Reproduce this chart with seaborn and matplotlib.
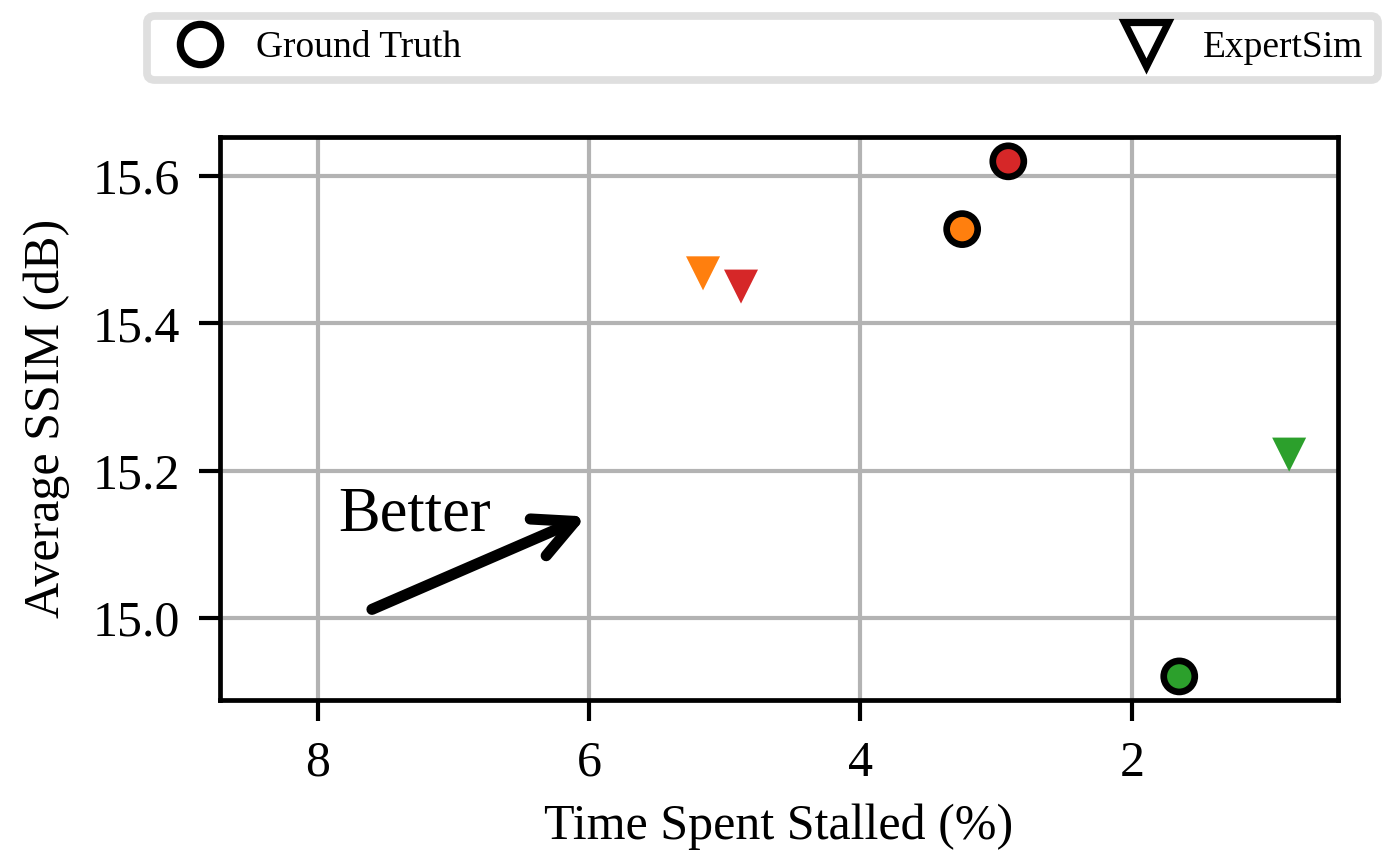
import numpy as np
import pandas as pd
import matplotlib
matplotlib.use('Agg')
import matplotlib.pyplot as plt
from matplotlib.lines import Line2D
import seaborn as sns

# values
configs = ['red', 'orange', 'green']
gt_stall = [2.91, 3.25, 1.65]
gt_ssim = [15.620, 15.528, 14.921]
sim_stall = [4.88, 5.16, 0.84]
sim_ssim = [15.450, 15.468, 15.222]

col_pal = {'red': '#d62728', 'orange': '#ff7f0e', 'green': '#2ca02c'}

sns.set_style('whitegrid')
plt.rcParams['font.family'] = ['Liberation Serif', 'DejaVu Serif']
plt.rcParams['mathtext.fontset'] = 'stix'
plt.rcParams['text.color'] = 'black'
plt.rcParams['axes.labelcolor'] = 'black'
plt.rcParams['xtick.color'] = 'black'
plt.rcParams['ytick.color'] = 'black'

gt = pd.DataFrame({'config': configs, 'stall': gt_stall, 'ssim': gt_ssim})
sim = pd.DataFrame({'config': configs, 'stall': sim_stall, 'ssim': sim_ssim})

fig, ax = plt.subplots(figsize=(6.915, 4.28), dpi=200)
fig.subplots_adjust(left=220/1383, right=1338/1383, top=1-137/856, bottom=1-700/856)

sns.scatterplot(data=sim, x='stall', y='ssim', hue='config', palette=col_pal,
                marker='v', s=150, linewidth=0, ax=ax, legend=False, zorder=3)
sns.scatterplot(data=gt, x='stall', y='ssim', hue='config', palette=col_pal,
                marker='o', s=125, edgecolor='black', linewidth=2.4, ax=ax,
                legend=False, zorder=4)

ax.set_xlim(8.72, 0.48)
ax.set_ylim(14.889, 15.653)
ax.set_xticks([8, 6, 4, 2])
ax.set_yticks([15.0, 15.2, 15.4, 15.6])
ax.set_xlabel('Time Spent Stalled (%)', fontsize=18, labelpad=6)
ax.set_ylabel('Average SSIM (dB)', fontsize=18, labelpad=8)
ax.tick_params(axis='both', labelsize=18, length=7.5, width=1.5, color='black',
               bottom=True, left=True, direction='out', pad=7)
ax.grid(True, color='#b3b3b3', linewidth=1.5)
for sp in ax.spines.values():
    sp.set_color('black')
    sp.set_linewidth(1.7)

# "Better" arrow
ax.annotate('', xy=(6.02, 15.138), xytext=(7.60, 15.012),
            arrowprops=dict(arrowstyle='->', color='black', lw=4,
                            mutation_scale=36, shrinkA=0, shrinkB=0,
                            capstyle='round', joinstyle='round'))
ax.text(7.85, 15.14, 'Better', fontsize=22.5, va='center', ha='left')

handles = [
    Line2D([], [], marker='o', linestyle='none', markerfacecolor='none',
           markeredgecolor='black', markeredgewidth=2.6, markersize=14.5,
           label='Ground Truth'),
    Line2D([], [], marker='v', linestyle='none', markerfacecolor='none',
           markeredgecolor='black', markeredgewidth=2.6, markersize=16,
           label='ExpertSim'),
]
leg = fig.legend(handles=handles, loc='lower left', ncol=2, mode='expand',
                 bbox_to_anchor=(147/1383, 1-80/856, (1378-147)/1383, 74/856),
                 fontsize=13.5, frameon=True, fancybox=True, handletextpad=0.5,
                 borderaxespad=0)
leg.get_frame().set_edgecolor('#d8d8d8')
leg.get_frame().set_linewidth(2.8)

plt.savefig('out.png', dpi=200)
